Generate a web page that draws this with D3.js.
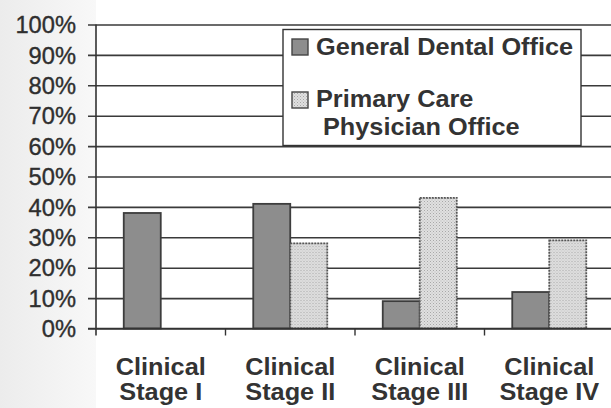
<!DOCTYPE html>
<html>
<head>
<meta charset="utf-8">
<script src="https://cdn.jsdelivr.net/npm/d3@7"></script>
<style>
  html, body { margin: 0; padding: 0; background: #fff; }
  svg { display: block; }
  text { font-family: "Liberation Sans", Arial, sans-serif; fill: #2b2b2b; }
</style>
</head>
<body>
<svg id="chart" width="611" height="408"></svg>
<script>
// Stage of oral cancer at detection, by setting
const stages = ["Clinical Stage I", "Clinical Stage II", "Clinical Stage III", "Clinical Stage IV"];
const stageLines = [["Clinical", "Stage I"], ["Clinical", "Stage II"], ["Clinical", "Stage III"], ["Clinical", "Stage IV"]];
const seriesNames = ["General Dental Office", "Primary Care Physician Office"];
const dentalValues = [38, 41, 9, 12];
const physicianValues = [null, 28, 43, 29];
const yTicks = [0, 10, 20, 30, 40, 50, 60, 70, 80, 90, 100];

const svg = d3.select("#chart");
const W = 611, H = 408;
const margin = { left: 96, top: 24.5, bottom: 79.5 };
const x0 = margin.left, xEnd = 614;
const yTop = margin.top, yBot = H - margin.bottom;
const stretch = 1.1; // wide face of the printed labels

// soft grey paper tone on the left margin
const defs = svg.append("defs");
const bg = defs.append("linearGradient").attr("id", "paper").attr("x1", 0).attr("x2", 1);
bg.append("stop").attr("offset", "0%").attr("stop-color", "#ececec");
bg.append("stop").attr("offset", "100%").attr("stop-color", "#f8f8f8");
svg.append("rect").attr("width", 96).attr("height", H).attr("fill", "url(#paper)");
svg.append("rect").attr("x", 96).attr("width", W - 96).attr("height", H).attr("fill", "#fff");

// stippled fill for the physician series
const pat = defs.append("pattern").attr("id", "dots")
  .attr("width", 3).attr("height", 3).attr("patternUnits", "userSpaceOnUse");
pat.append("rect").attr("width", 3).attr("height", 3).attr("fill", "#e0e0e0");
pat.append("rect").attr("width", 1).attr("height", 1).attr("fill", "#a8a8a8");
pat.append("rect").attr("x", 1.5).attr("y", 1.5).attr("width", 1).attr("height", 1).attr("fill", "#b8b8b8");

const x = d3.scaleBand().domain(stages).range([x0, xEnd]).paddingInner(0).paddingOuter(0);
const xs = d3.scaleBand().domain(seriesNames).range([0, x.bandwidth()]).paddingInner(0).paddingOuter(0.75);
const y = d3.scaleLinear().domain([0, 100]).range([yBot, yTop]);

// horizontal grid lines with left ticks
const yAxis = d3.axisLeft(y).tickValues(yTicks).tickSize(0).tickFormat(d => d + "%");
const gy = svg.append("g").attr("transform", `translate(${x0},0)`).call(yAxis);
gy.select(".domain").remove();
gy.selectAll(".tick line").attr("x1", -8).attr("x2", W - x0)
  .attr("stroke", "#3a3a3a").attr("stroke-width", 1.6);
gy.selectAll(".tick text")
  .attr("x", 0).attr("dy", "0.36em")
  .attr("text-anchor", "end")
  .attr("transform", `translate(-20,0) scale(1.03,1)`)
  .style("font-size", "23px").style("fill", "#2f2f2f")
  .style("stroke", "#2f2f2f").style("stroke-width", "0.35px");

// vertical axis line
svg.append("line").attr("x1", x0).attr("x2", x0).attr("y1", yTop).attr("y2", yBot + 7)
  .attr("stroke", "#333").attr("stroke-width", 1.6);

// bars
const rows = stages.map((s, i) => ({ stage: s, vals: [dentalValues[i], physicianValues[i]] }));
const groups = svg.append("g").selectAll("g").data(rows).join("g")
  .attr("transform", d => `translate(${x(d.stage)},0)`);
groups.selectAll("rect")
  .data(d => d.vals.map((v, k) => ({ name: seriesNames[k], v, k })).filter(e => e.v != null))
  .join("rect")
  .attr("x", e => xs(e.name))
  .attr("width", xs.bandwidth())
  .attr("y", e => y(e.v))
  .attr("height", e => yBot - y(e.v))
  .attr("fill", e => e.k === 0 ? "#8d8d8d" : "url(#dots)")
  .attr("stroke", e => e.k === 0 ? "#3d3d3d" : "#555")
  .attr("stroke-width", 1.8)
  .attr("stroke-dasharray", e => e.k === 0 ? null : "2,1");

// category axis along 0%
svg.append("line").attr("x1", x0 - 8).attr("x2", W).attr("y1", yBot).attr("y2", yBot)
  .attr("stroke", "#333").attr("stroke-width", 1.6);
svg.append("g").selectAll("line").data(stages.slice(1)).join("line")
  .attr("x1", d => x(d)).attr("x2", d => x(d))
  .attr("y1", yBot).attr("y2", yBot + 7)
  .attr("stroke", "#333").attr("stroke-width", 1.4);

// two-line category labels
const lab = svg.append("g").selectAll("g").data(stages).join("g")
  .attr("transform", d => `translate(${x(d) + x.bandwidth() / 2},0) scale(${stretch},1)`);
lab.each(function (d, i) {
  const g = d3.select(this);
  stageLines[i].forEach((line, j) => {
    g.append("text").attr("text-anchor", "middle").attr("x", 0).attr("y", 375 + j * 25)
      .style("font-size", "23px").style("font-weight", "bold").style("fill", "#333")
      .text(line);
  });
});

// legend
const lg = svg.append("g");
lg.append("rect").attr("x", 283).attr("y", 29.5).attr("width", 298).attr("height", 116)
  .attr("fill", "#fff").attr("stroke", "#333").attr("stroke-width", 1.4);
const legendItems = [
  { lines: ["General Dental Office"], sy: 39, ty: 55, fill: "#8d8d8d" },
  { lines: ["Primary Care", "Physician Office"], sy: 92, ty: 107, fill: "url(#dots)" }
];
legendItems.forEach(it => {
  lg.append("rect").attr("x", 292).attr("y", it.sy).attr("width", 16).attr("height", 16)
    .attr("fill", it.fill).attr("stroke", "#444").attr("stroke-width", 1.4);
  it.lines.forEach((line, j) => {
    lg.append("text")
      .attr("transform", `translate(${j === 0 ? 316 : 323},${it.ty + j * 28}) scale(${stretch},1)`)
      .style("font-size", "23px").style("font-weight", "bold").style("fill", "#333")
      .text(line);
  });
});
</script>
</body>
</html>
